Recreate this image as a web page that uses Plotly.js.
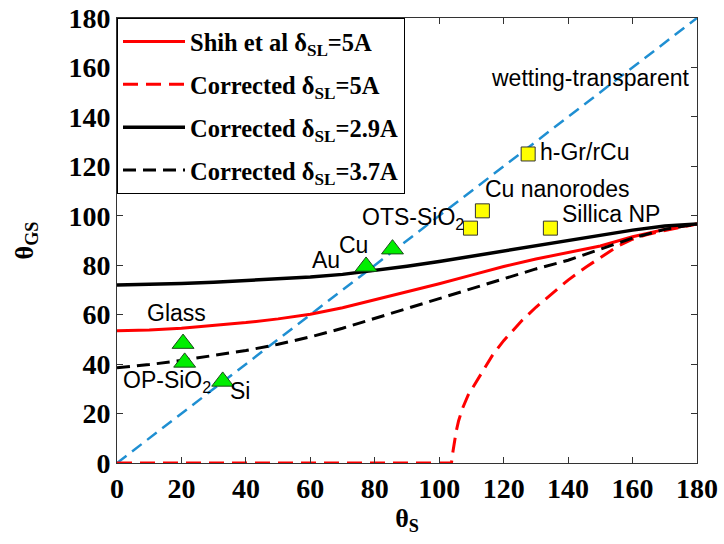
<!DOCTYPE html>
<html>
<head>
<meta charset="utf-8">
<script src="https://cdn.plot.ly/plotly-3.0.1.min.js"></script>
<style>html,body{margin:0;padding:0;background:#fff;}#chart{width:724px;height:544px;}</style>
</head>
<body>
<div id="chart"></div>
<script>
// ---- data ----
var thetaS = [0,10,20,30,40,50,60,70,80,90,100,110,120,130,140,150,160,170,180];
var shih5 = [53.5,53.8,54.5,55.5,56.8,58.3,60.2,62.8,66,69.3,72.5,76,79.5,82.5,85,87.8,91.5,94.5,96.7];
var corr29 = [72,72.2,72.6,73.1,73.7,74.4,75.2,76.3,77.8,79.6,81.5,83.6,85.7,87.8,89.7,91.8,94.2,95.9,96.7];
var corr37 = [38.5,39.8,41.5,43.5,45.5,48,51,54.5,58.5,62.5,66.5,70.3,74.5,78.5,82,86.5,91,94.5,96.7];
var corr5X = [0,103.8,104.3,104.8,105.3,106,107.2,109,111.5,114,116.5,120,125.8,130,135,140,145.6,150,155.8,160,164,168,172,176,180];
var corr5Y = [0,0,5,9.5,13,17,22,27.5,33,38.5,43.5,49.5,57.8,63,68.7,74,79.3,83,88,90.5,92.2,93.5,94.6,95.7,96.7];
var diagX = [0,180];
var diagY = [0,180];
var triNames = ['Glass','OP-SiO2','Si','Au','Cu'];
var triX = [20.5,21,32.8,77.3,85.5];
var triY = [48.3,40.7,33,79.5,86.5];
var sqNames = ['OTS-SiO2','Cu nanorodes','h-Gr/rCu','Sillica NP'];
var sqX = [109.7,113.4,127.6,134.5];
var sqY = [95,102,125,95];
var legendNames = ['Shih et al δ<sub>SL</sub>=5A','Corrected δ<sub>SL</sub>=5A','Corrected δ<sub>SL</sub>=2.9A','Corrected δ<sub>SL</sub>=3.7A'];
var labelTexts = ['wetting-transparent','h-Gr/rCu','Cu nanorodes','OTS-SiO<sub>2</sub>','Sillica NP','Au','Cu','Glass','OP-SiO<sub>2</sub>','Si'];
var labelX = [146.7,130.7,113.7,75.3,137.5,59.8,68.2,8.7,1.2,34.4];
var labelY = [155.7,125.8,110.8,99.1,100.7,82.1,88.2,60.7,32.8,29.1];
var xTicks = [0,20,40,60,80,100,120,140,160,180];
var yTicks = [0,20,40,60,80,100,120,140,160,180];

var serif = 'Liberation Serif, Times New Roman, serif';
var sans = 'Liberation Sans, Arial, sans-serif';

var traces = [
  {x: diagX, y: diagY, mode:'lines', line:{color:'#1f8fd2', width:2.5, dash:'12px,7px'}, showlegend:false, hoverinfo:'skip'},
  {x: thetaS, y: shih5, mode:'lines', name: legendNames[0], legendgroup:'a', line:{color:'#ff0000', width:3}},
  {x: corr5X, y: corr5Y, mode:'lines', name: legendNames[1], legendgroup:'b', line:{color:'#ff0000', width:3, dash:'15px,8px'}},
  {x: thetaS, y: corr29, mode:'lines', name: legendNames[2], legendgroup:'c', line:{color:'#000000', width:3.5}},
  {x: thetaS, y: corr37, mode:'lines', name: legendNames[3], legendgroup:'d', line:{color:'#000000', width:3, dash:'13px,7px'}},
  {x: triX, y: triY, text: triNames, mode:'markers', showlegend:false, marker:{symbol:'triangle-up', size:19, color:'#00ee00', line:{color:'#1a4a1a', width:1}}},
  {x: sqX, y: sqY, text: sqNames, mode:'markers', showlegend:false, marker:{symbol:'square', size:14, color:'#ffff00', line:{color:'#333333', width:1}}}
];

var annotations = labelTexts.map(function(t,i){
  return {x: labelX[i], y: labelY[i], xref:'x', yref:'y', text: t, showarrow:false,
          xanchor: i===0 ? 'center' : 'left', yanchor:'middle',
          font:{family: sans, size:23, color:'#000'}};
});

var layout = {
  width:724, height:544,
  margin:{l:117, r:27, t:18, b:81},
  paper_bgcolor:'#fff', plot_bgcolor:'#fff',
  showlegend:true,
  legend:{x:0, y:1, xanchor:'left', yanchor:'top', bgcolor:'#fff', bordercolor:'#000', borderwidth:1,
          itemwidth:62,
          font:{family: serif, size:24.5, color:'#000', weight:'bold'}, tracegroupgap:8, traceorder:'grouped'},
  xaxis:{range:[0,180], tickvals:xTicks, ticks:'inside', ticklen:6, tickcolor:'#333', showline:true, linecolor:'#333', linewidth:1,
         mirror:'ticks', showgrid:false, zeroline:false,
         tickfont:{family: serif, size:28, color:'#000', weight:'bold'},
         title:{text:'θ<sub>S</sub>', font:{family: serif, size:26, color:'#000', weight:'bold'}, standoff:4}},
  yaxis:{range:[0,180], tickvals:yTicks, ticks:'inside', ticklen:6, tickcolor:'#333', showline:true, linecolor:'#333', linewidth:1,
         mirror:'ticks', showgrid:false, zeroline:false,
         tickfont:{family: serif, size:28, color:'#000', weight:'bold'},
         title:{text:'θ<sub>GS</sub>', font:{family: serif, size:26, color:'#000', weight:'bold'}, standoff:27}},
  annotations: annotations
};

Plotly.newPlot('chart', traces, layout, {displayModeBar:false, staticPlot:true});
</script>
</body>
</html>
